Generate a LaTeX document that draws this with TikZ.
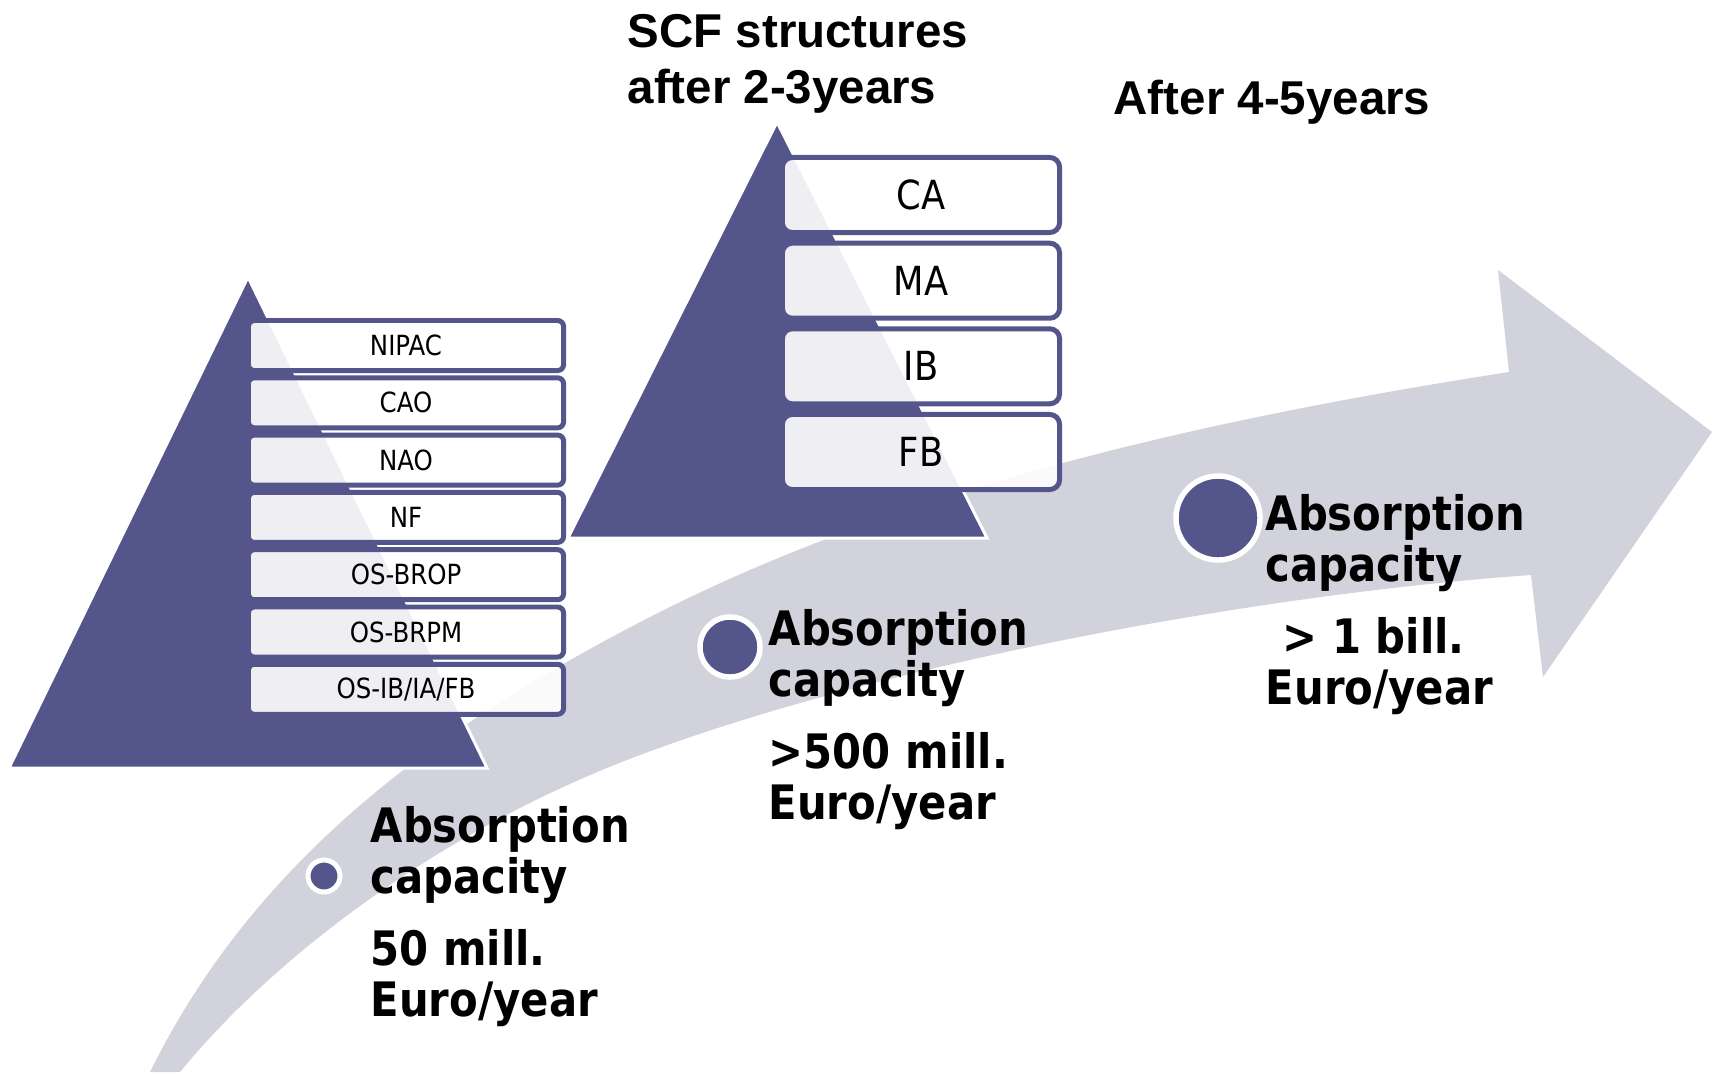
\documentclass[tikz,border=0pt]{standalone}
\usepackage{fontspec}
\usepackage{xcolor}
\usepackage{tikz}
\usetikzlibrary{calc}
\setmainfont{Liberation Sans}
\newfontfamily\unitfont[FakeStretch=0.88]{DejaVu Sans}
\definecolor{pyr}{HTML}{54558A}
\definecolor{band}{HTML}{D1D2DC}
\tikzset{
  pyramid/.style={fill=pyr, draw=white, line width=0.85pt},
  unit/.style={draw=pyr, line width=1.42pt, fill=white, fill opacity=0.9, text opacity=1, inner sep=0pt},
  lunit/.style={unit, rounded corners=1.7pt, minimum width=3.15cm, minimum height=0.5cm, font=\unitfont\fontsize{7.9}{9}\selectfont},
  runit/.style={unit, rounded corners=2.8pt, minimum width=2.77cm, minimum height=0.75cm, font=\unitfont\fontsize{11.4}{13}\selectfont},
  dot/.style={circle, fill=pyr, draw=white, inner sep=0pt},
  head/.style={anchor=north west, inner sep=0pt, align=left, font=\bfseries\fontsize{13.5}{15.8}\selectfont},
  absorb/.style={anchor=north west, inner sep=0pt, align=left, font=\unitfont\bfseries\fontsize{13.5}{14.5}\selectfont},
}

\begin{document}
\begin{tikzpicture}[x=0.01cm, y=-0.01cm]
  \useasboundingbox (0,0) rectangle (1715,1072);

  \fill[band] (150,1072) .. controls (250,870) and (420,735) .. (650,617)
    .. controls (900,489) and (1200,420) .. (1509,372)
    -- (1498,270) -- (1712,432) -- (1543,677) -- (1531,575)
    .. controls (1250,595) and (880,665) .. (640,755)
    .. controls (450,826) and (280,950) .. (180,1072) -- cycle;

  \coordinate (LA) at (248,277);
  \coordinate (LR) at (487,768);
  \coordinate (LL) at (9,768);
  \draw[pyramid] (LA) -- (LR) -- (LL) -- cycle;

  \coordinate (RA) at (777,122);
  \coordinate (RR) at (987,538);
  \coordinate (RL) at (568,538);
  \draw[pyramid] (RA) -- (RR) -- (RL) -- cycle;

  \node[lunit] (nipac) at (406,345.5) {NIPAC};
  \node[lunit] (cao)   at (406,402.8) {CAO};
  \node[lunit] (nao)   at (406,460.1) {NAO};
  \node[lunit] (nf)    at (406,517.4) {NF};
  \node[lunit] (brop)  at (406,574.7) {OS-BROP};
  \node[lunit] (brpm)  at (406,632)   {OS-BRPM};
  \node[lunit] (osib)  at (406,689.3) {OS-IB/IA/FB};

  \node[runit] (ca) at (921,195)   {CA};
  \node[runit] (ma) at (921,280.7) {MA};
  \node[runit] (ib) at (921,366.3) {IB};
  \node[runit] (fb) at (921,452)   {FB};

  \node[head] (scf)   at (627,14) {SCF structures\\after 2-3years};
  \node[head] (later) at (1113,79.5) {After 4-5years};

  \node[dot, minimum size=0.32cm, line width=1.42pt] (d1) at (324,876) {};
  \node[dot, minimum size=0.6cm,  line width=1.56pt] (d2) at (730,647) {};
  \node[dot, minimum size=0.84cm, line width=1.56pt] (d3) at (1218,518) {};

  \node[absorb] (abs1) at (370,806) {Absorption\\capacity\\[6pt]50 mill.\\Euro/year};
  \node[absorb] (abs2) at (768,609) {Absorption\\capacity\\[6pt]>500 mill.\\Euro/year};
  \node[absorb] (abs3) at (1265,494) {Absorption\\capacity\\[6pt]\hspace*{4.8pt}> 1 bill.\\Euro/year};
\end{tikzpicture}
\end{document}
